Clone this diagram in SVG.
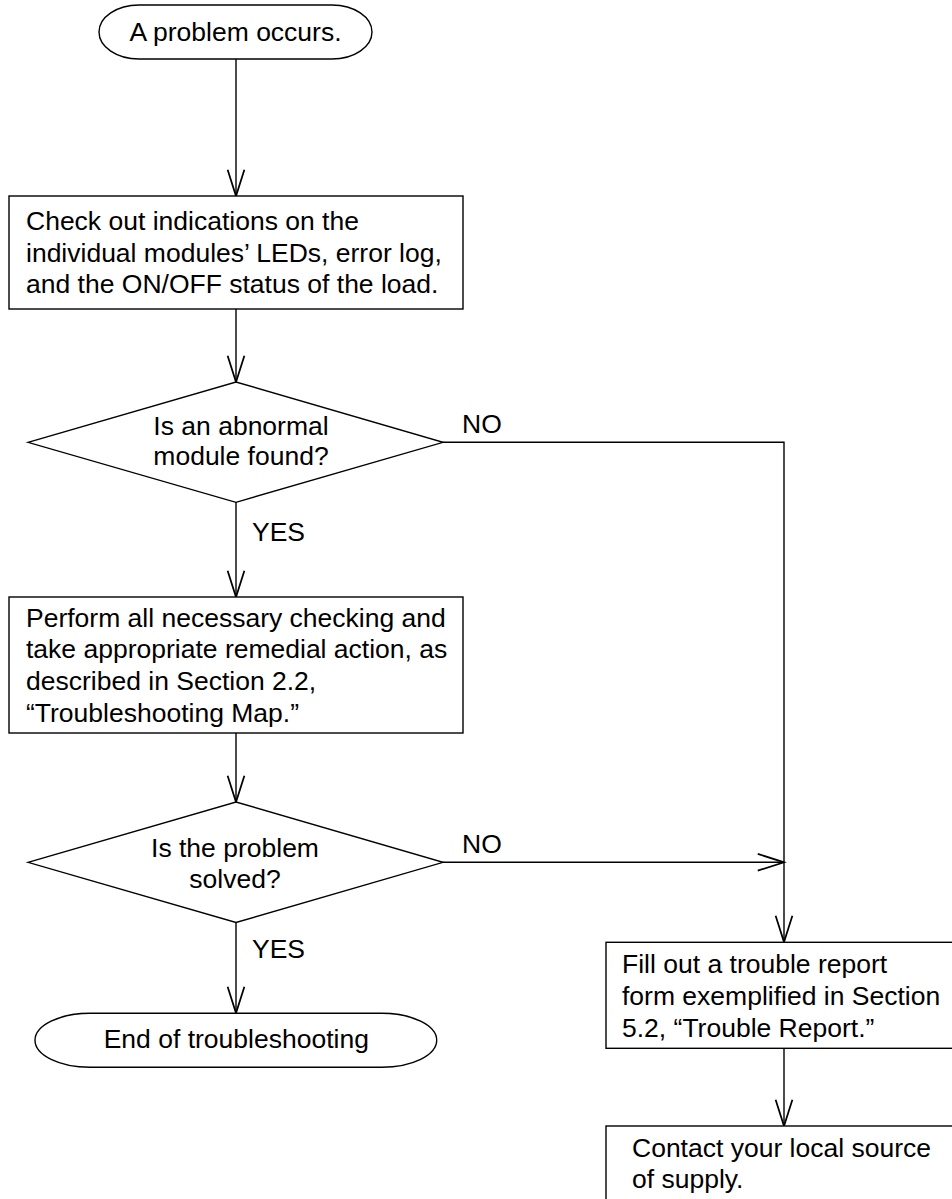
<svg xmlns="http://www.w3.org/2000/svg" width="952" height="1199" viewBox="0 0 952 1199">
<style>
.s{fill:#fff;stroke:#000;stroke-width:1.4}
.c{fill:none;stroke:#000;stroke-width:1.4}
text{font-family:"Liberation Sans",Arial,sans-serif;font-size:26.5px;fill:#000}
.m{text-anchor:middle}
</style>
<defs>
<marker id="a" markerUnits="userSpaceOnUse" markerWidth="30" markerHeight="20" viewBox="-22 -8 24 16" refX="0" refY="0" orient="auto">
<path d="M-21,-6.7 L0,0 L-21,6.7" fill="none" stroke="#000" stroke-width="1.4"/>
</marker>
</defs>
<rect width="952" height="1199" fill="#fff"/>
<g id="connectors">
<line class="c" x1="236" y1="59" x2="236" y2="196" marker-end="url(#a)"/>
<line class="c" x1="236" y1="309" x2="236" y2="382" marker-end="url(#a)"/>
<line class="c" x1="236" y1="502" x2="236" y2="597" marker-end="url(#a)"/>
<line class="c" x1="236" y1="733" x2="236" y2="802" marker-end="url(#a)"/>
<line class="c" x1="236" y1="922.5" x2="236" y2="1013" marker-end="url(#a)"/>
<polyline class="c" points="443,442.3 784,442.3 784,942" marker-end="url(#a)"/>
<line class="c" x1="443" y1="862.3" x2="784" y2="862.3" marker-end="url(#a)"/>
<line class="c" x1="784" y1="1048.3" x2="784" y2="1126" marker-end="url(#a)"/>
<text x="462" y="432.7">NO</text>
<text x="252" y="540.7">YES</text>
<text x="462" y="852.7">NO</text>
<text x="252" y="958.3">YES</text>
</g>
<g id="start">
<rect class="s" x="99" y="5" width="273" height="54" rx="40" ry="27"/>
<text class="m" x="235.5" y="41">A problem occurs.</text>
</g>
<g id="check">
<rect class="s" x="9" y="196" width="454" height="113"/>
<text x="26" y="230">Check out indications on the</text>
<text x="26" y="261.7">individual modules’ LEDs, error log,</text>
<text x="26" y="293.3">and the ON/OFF status of the load.</text>
</g>
<g id="decision1">
<polygon class="s" points="28,442.3 236,382 443,442.3 236,502.3"/>
<text class="m" x="241" y="435">Is an abnormal</text>
<text class="m" x="241" y="465">module found?</text>
</g>
<g id="perform">
<rect class="s" x="9" y="597" width="454" height="136"/>
<text x="26" y="626.7">Perform all necessary checking and</text>
<text x="26" y="658.3">take appropriate remedial action, as</text>
<text x="26" y="690">described in Section 2.2,</text>
<text x="26" y="721.7">“Troubleshooting Map.”</text>
</g>
<g id="decision2">
<polygon class="s" points="28,862.3 236,802 443,862.3 236,922.5"/>
<text class="m" x="235" y="856.7">Is the problem</text>
<text class="m" x="235" y="887.7">solved?</text>
</g>
<g id="end">
<rect class="s" x="35" y="1013.3" width="401.7" height="54" rx="55" ry="27"/>
<text class="m" x="236.3" y="1048.3">End of troubleshooting</text>
</g>
<g id="report">
<rect class="s" x="606" y="942.3" width="360" height="106"/>
<text x="622" y="973.3">Fill out a trouble report</text>
<text x="622" y="1005">form exemplified in Section</text>
<text x="622" y="1036.7">5.2, “Trouble Report.”</text>
</g>
<g id="contact">
<rect class="s" x="606" y="1126" width="360" height="90"/>
<text x="632" y="1157">Contact your local source</text>
<text x="632" y="1187.5">of supply.</text>
</g>
</svg>
